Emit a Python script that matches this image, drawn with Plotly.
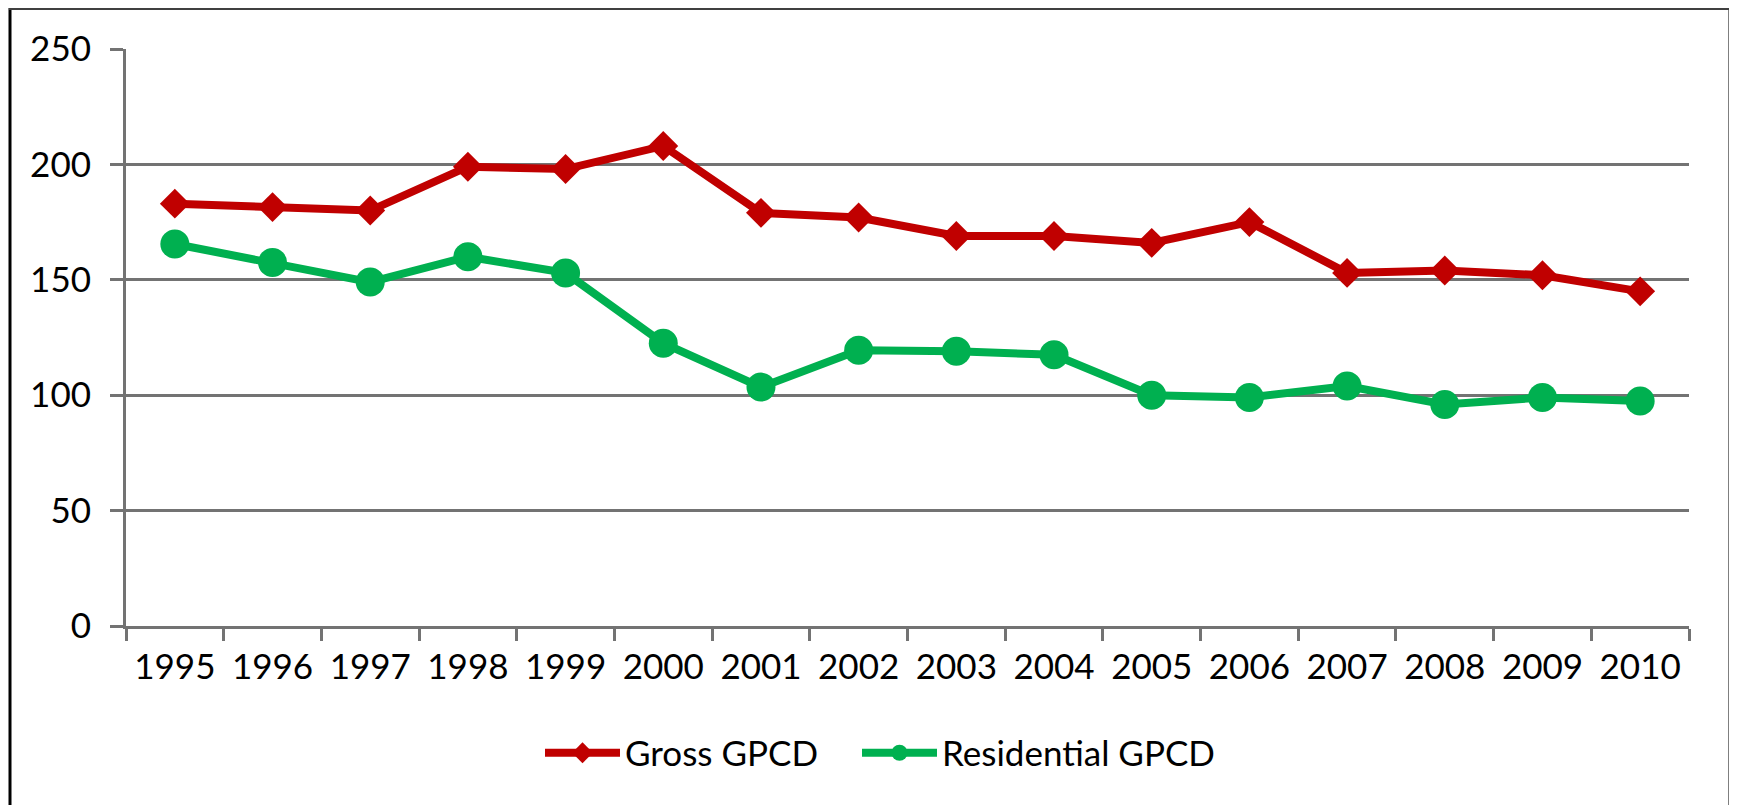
import plotly.graph_objects as go

years = ["1995", "1996", "1997", "1998", "1999", "2000", "2001", "2002",
         "2003", "2004", "2005", "2006", "2007", "2008", "2009", "2010"]
gross_gpcd = [183, 181.5, 180, 199, 198, 208, 179, 177,
              169, 169, 166, 175, 153, 154, 152, 145]
residential_gpcd = [165.5, 157.5, 149, 160, 153, 122.5, 103.5, 119.5,
                    119, 117.5, 100, 99, 104, 96, 99, 97.5]
y_ticks = [0, 50, 100, 150, 200, 250]

RED = "#C00000"
GREEN = "#00B050"
GRID = "#737373"
FONT = "Lato"
FS = 35

fig = go.Figure()
fig.add_trace(go.Scatter(
    x=years, y=gross_gpcd, name="Gross GPCD", mode="lines+markers",
    line=dict(color=RED, width=8),
    marker=dict(symbol="diamond", size=23, color=RED),
    legend="legend",
))
fig.add_trace(go.Scatter(
    x=years, y=residential_gpcd, name="Residential GPCD", mode="lines+markers",
    line=dict(color=GREEN, width=8),
    marker=dict(symbol="circle", size=29, color=GREEN),
    legend="legend2",
))

# page offset of the plot div (default body margin)
OFF = 8
W, H = 1737 - OFF, 805 - OFF
L, T = 126 - OFF, 49 - OFF
R = W - (1689 - OFF)
B = H - (626 - OFF)
pw, ph = W - L - R, H - T - B

def px_x(p):
    return (p - OFF - L) / pw

def px_y(p):
    return (H - B - (p - OFF)) / ph

shapes = [
    dict(type="line", xref="paper", yref="paper",
         x0=px_x(10), x1=px_x(10), y0=px_y(8), y1=px_y(820),
         line=dict(color="#000000", width=3)),
    dict(type="line", xref="paper", yref="paper",
         x0=px_x(1730), x1=px_x(1730), y0=px_y(8), y1=px_y(820),
         line=dict(color="#000000", width=3)),
    dict(type="line", xref="paper", yref="paper",
         x0=px_x(9), x1=px_x(1731), y0=px_y(9), y1=px_y(9),
         line=dict(color="#404040", width=2)),
]

legend_common = dict(orientation="h", xanchor="left", yanchor="middle",
                     font=dict(family=FONT, size=FS, color="#000000"),
                     itemwidth=75, bgcolor="rgba(0,0,0,0)", borderwidth=0)

fig.update_layout(
    width=W, height=H,
    margin=dict(l=L, r=R, t=T, b=B, pad=0),
    paper_bgcolor="white", plot_bgcolor="white",
    font=dict(family=FONT, size=FS, color="#000000"),
    showlegend=True,
    legend=dict(x=px_x(540), y=px_y(753), **legend_common),
    legend2=dict(x=px_x(857), y=px_y(753), **legend_common),
    xaxis=dict(type="category", range=[-0.5, 15.5],
               tickson="boundaries", ticks="outside",
               ticklen=12, tickwidth=3, tickcolor=GRID,
               showline=True, linecolor=GRID, linewidth=3,
               showgrid=False, zeroline=False,
               tickfont=dict(family=FONT, size=FS, color="#000000"),
               ticklabelstandoff=8, fixedrange=True),
    yaxis=dict(range=[0, 250], tickvals=y_ticks, ticks="outside",
               ticklen=13, tickwidth=3, tickcolor=GRID,
               showline=True, linecolor=GRID, linewidth=3,
               showgrid=True, gridcolor=GRID, gridwidth=3,
               zeroline=False,
               tickfont=dict(family=FONT, size=FS, color="#000000"),
               ticklabelstandoff=12, fixedrange=True),
    shapes=shapes,
)

fig.write_html("out.html")
